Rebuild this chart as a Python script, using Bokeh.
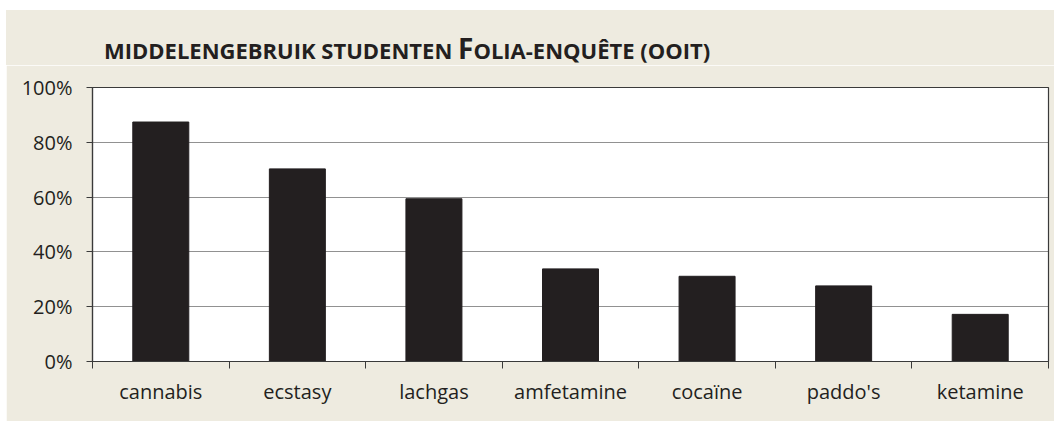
from bokeh.plotting import figure
from bokeh.layouts import column
from bokeh.models import (ColumnDataSource, FactorRange, Range1d, LinearAxis, CategoricalAxis,
                          FixedTicker, NumeralTickFormatter, CustomLabelingPolicy, Div)
from bokeh.embed import file_html
from bokeh.resources import INLINE

categories = ["cannabis", "ecstasy", "lachgas", "amfetamine", "cocaïne", "paddo's", "ketamine"]
values = [0.874, 0.703, 0.594, 0.338, 0.311, 0.276, 0.172]
y_ticks = [0, 0.2, 0.4, 0.6, 0.8, 1.0]
title_parts = ["MIDDELENGEBRUIK STUDENTEN ", "F", "OLIA-ENQUÊTE (OOIT)"]

BG = "#EEEBE0"
DARK = "#231F20"
AX = "#3A3A3A"
FONT = "Open Sans"

src = ColumnDataSource(dict(cat=categories, val=values))

# title (small-caps look: large initial F)
sizes = ["22px", "28px", "22px"]
spans = "".join(f'<span style="font-size:{s}">{t.replace(" ", "&nbsp;")}</span>'
                for t, s in zip(title_parts, sizes))
title_html = (f'<div style="padding-left:98px;padding-top:24px;font-family:\'{FONT}\';'
              f'font-weight:bold;color:{DARK};white-space:nowrap;line-height:1;font-size:28px;">'
              f'{spans}</div>')
title = Div(text=title_html, width=1048, height=55,
            styles={"background-color": BG, "margin": "0", "padding": "0"})

p = figure(width=1048, height=356, x_range=FactorRange(*categories, range_padding=0),
           y_range=Range1d(0, 1), output_backend="svg", toolbar_location=None,
           x_axis_location=None, min_border_left=86, min_border_right=6,
           min_border_top=22, min_border_bottom=60)
p.border_fill_color = BG
p.background_fill_color = "white"
p.outline_line_color = AX
p.outline_line_width = 1.2

p.vbar(x="cat", top="val", width=0.41, source=src, fill_color=DARK, line_color=DARK)

# grid
p.xgrid.visible = False
p.ygrid.ticker = FixedTicker(ticks=y_ticks[1:-1])
p.ygrid.grid_line_color = "#222222"
p.ygrid.grid_line_dash = "1 1"
p.ygrid.grid_line_width = 1

# y axis
ya = p.yaxis[0]
ya.ticker = FixedTicker(ticks=y_ticks)
ya.formatter = NumeralTickFormatter(format="0%")
ya.major_tick_in = 0
ya.major_tick_out = 6
ya.minor_tick_line_color = None
ya.axis_line_color = AX
ya.major_tick_line_color = AX
ya.axis_line_width = 1.2
ya.major_label_text_font = FONT
ya.major_label_text_font_size = "20px"
ya.major_label_text_color = DARK
ya.major_label_standoff = 14

# tick axis at category boundaries (synthetic coordinates of the factor range)
ta = LinearAxis(ticker=FixedTicker(ticks=list(range(len(categories) + 1))))
ta.major_tick_in = 0
ta.major_tick_out = 7
ta.minor_tick_line_color = None
ta.axis_line_color = AX
ta.axis_line_width = 1.2
ta.major_tick_line_color = AX
ta.major_label_text_font_size = "0px"
ta.major_label_policy = CustomLabelingPolicy(code="""
for (const i of indices) indices.unset(i)
return indices
""")
ta.major_label_standoff = 0
p.add_layout(ta, "below")

# category labels
ca = CategoricalAxis()
ca.axis_line_color = None
ca.major_tick_line_color = None
ca.minor_tick_line_color = None
ca.major_label_text_font = FONT
ca.major_label_text_font_size = "20px"
ca.major_label_text_color = DARK
ca.major_label_standoff = 3
p.add_layout(ca, "below")

layout = column(title, p, spacing=0)
layout.margin = (10, 0, 0, 6)

open("out.html", "w").write(file_html(layout, INLINE))
